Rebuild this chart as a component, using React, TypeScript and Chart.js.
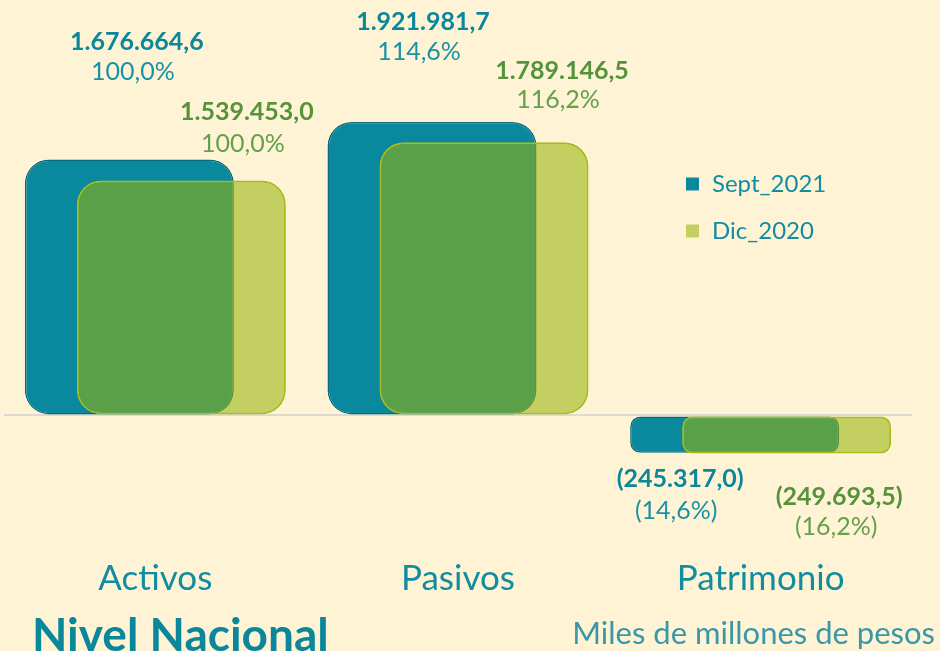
import React, { useEffect, useRef } from 'react';
import { Chart, registerables } from 'chart.js';

Chart.register(...registerables);

// ---- data ----
const categories = ['Activos', 'Pasivos', 'Patrimonio'];
const seriesNames = ['Sept_2021', 'Dic_2020'];
const sept2021 = [1676664.6, 1921981.7, -245317.0];
const dic2020 = [1539453.0, 1789146.5, -249693.5];
const chartTitle = 'Nivel Nacional';
const unitsText = 'Miles de millones de pesos';

// ---- label placement (offsets from bar end, px) ----
const valueLabelOffsets = [
  [[7.5, -117], [-9, -100], [-54.5, 26]],
  [[65.5, -68], [78, -71], [52.5, 43]],
];
const pctLabelOffsets = [
  [[3.5, -87], [-13, -70], [-58.5, 58]],
  [[61.5, -36], [74, -42], [49.5, 73]],
];

// ---- styles ----
const FONT = 'Lato, "Open Sans", sans-serif';
const BG = '#FEF4D5';
const TEAL = '#0A889E';
const TEAL_BORDER = '#0A6A7B';
const LIME = 'rgba(152,180,8,0.57)';
const LIME_BORDER = '#A6BC1C';
const valueColors = ['#0A879B', '#56923A'];
const pctColors = ['#1A92A6', '#65A04B'];
const textTeal = '#128CA0';

function fmt(v: number): string {
  const abs = Math.abs(v);
  const [intPart, dec] = abs.toFixed(1).split('.');
  const grouped = intPart.replace(/\B(?=(\d{3})+(?!\d))/g, '.');
  const s = grouped + ',' + dec;
  return v < 0 ? '(' + s + ')' : s;
}

function fmtPct(p: number): string {
  const s = Math.abs(p).toFixed(1).replace('.', ',') + '%';
  return p < 0 ? '(' + s + ')' : s;
}

const limeOnTop = {
  id: 'limeOnTop',
  beforeDatasetDraw(chart: any, args: any) {
    if (args.index === 1) return false;
    return true;
  },
  afterDatasetsDraw(chart: any) {
    const meta = chart.getDatasetMeta(1);
    chart.ctx.save();
    meta.controller.draw();
    chart.ctx.restore();
  },
};

const labelsPlugin = {
  id: 'labelsPlugin',
  afterDraw(chart: any) {
    const ctx = chart.ctx as CanvasRenderingContext2D;
    ctx.save();
    ctx.textAlign = 'center';
    ctx.textBaseline = 'middle';
    chart.data.datasets.forEach((ds: any, i: number) => {
      const meta = chart.getDatasetMeta(i);
      const vals = ds.data as number[];
      const ref = vals[0];
      meta.data.forEach((el: any, j: number) => {
        const v = vals[j];
        const [vx, vy] = valueLabelOffsets[i][j];
        const [px, py] = pctLabelOffsets[i][j];
        ctx.font = `bold 25px ${FONT}`;
        ctx.fillStyle = valueColors[i];
        ctx.fillText(fmt(v), el.x + vx, el.y + vy);
        ctx.font = `25px ${FONT}`;
        ctx.fillStyle = pctColors[i];
        ctx.fillText(fmtPct((v / ref) * 100), el.x + px, el.y + py);
      });
    });

    // legend
    ctx.textAlign = 'left';
    chart.data.datasets.forEach((ds: any, i: number) => {
      const cy = 184 + i * 47;
      ctx.fillStyle = ds.backgroundColor;
      ctx.fillRect(686, cy - 6.5, 13, 13);
      ctx.font = `24px ${FONT}`;
      ctx.fillStyle = textTeal;
      ctx.fillText(ds.label, 712, cy);
    });

    // title & units
    ctx.textBaseline = 'alphabetic';
    ctx.textAlign = 'left';
    ctx.font = `bold 46px ${FONT}`;
    ctx.fillStyle = '#0B879C';
    ctx.fillText(chartTitle, 32, 651);
    ctx.textAlign = 'right';
    ctx.font = `31px ${FONT}`;
    ctx.fillStyle = '#3A97A8';
    ctx.fillText(unitsText, 935, 644);
    ctx.restore();
  },
};

export default function App() {
  const ref = useRef<HTMLCanvasElement | null>(null);

  useEffect(() => {
    document.body.style.margin = '0';
    document.body.style.background = BG;
    if (!ref.current) return;
    const chart = new Chart(ref.current, {
      type: 'bar',
      data: {
        labels: categories,
        datasets: [
          {
            label: seriesNames[0],
            data: sept2021,
            backgroundColor: TEAL,
            borderColor: TEAL_BORDER,
            borderWidth: 1.5,
            borderSkipped: false,
            borderRadius: (c: any) => (c.raw < 0 ? 10 : 24),
            categoryPercentage: 0.3436,
            barPercentage: 4.02,
          },
          {
            label: seriesNames[1],
            data: dic2020,
            backgroundColor: LIME,
            borderColor: LIME_BORDER,
            borderWidth: 2,
            borderSkipped: false,
            borderRadius: (c: any) => (c.raw < 0 ? 10 : 24),
            categoryPercentage: 0.3436,
            barPercentage: 4.02,
          },
        ] as any,
      },
      options: {
        responsive: false,
        animation: false,
        layout: { padding: { left: 4, right: 28, top: 49, bottom: 0 } },
        plugins: {
          legend: { display: false },
          tooltip: { enabled: false },
          title: { display: false },
        },
        scales: {
          x: {
            grid: { display: false, drawTicks: false },
            border: { display: false },
            ticks: {
              padding: 51,
              color: textTeal,
              font: { family: FONT, size: 35 },
            },
          },
          y: {
            min: -600000,
            max: 2400000,
            border: { display: false },
            grid: {
              drawTicks: false,
              lineWidth: 2,
              color: (c: any) => (c.tick && c.tick.value === 0 ? '#DCDAD2' : 'rgba(0,0,0,0)'),
            },
            ticks: { display: false, stepSize: 200000 },
          },
        },
      },
      plugins: [limeOnTop, labelsPlugin],
    } as any);
    return () => chart.destroy();
  }, []);

  return (
    <div style={{ width: 940, height: 651, background: BG, overflow: 'hidden' }}>
      <canvas ref={ref} width={940} height={651} style={{ display: 'block' }} />
    </div>
  );
}
